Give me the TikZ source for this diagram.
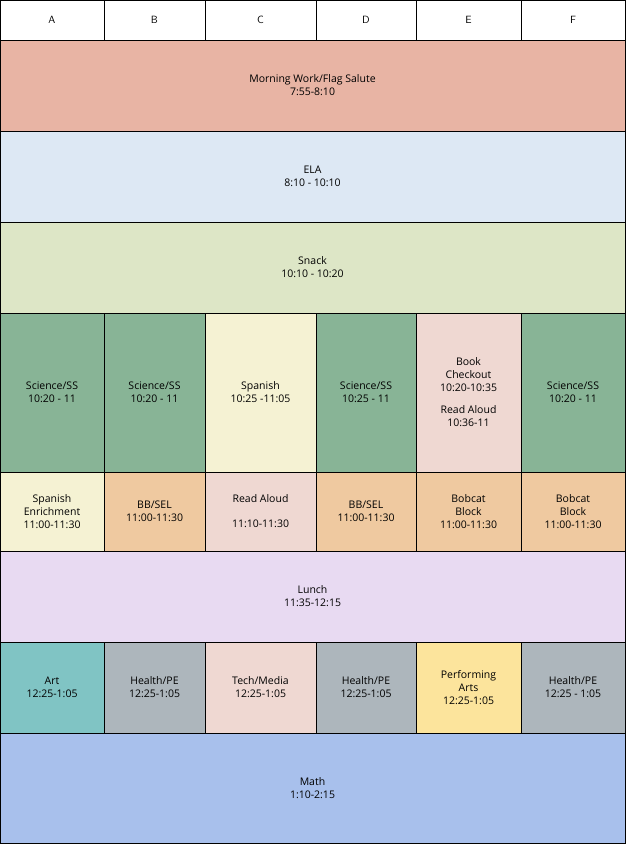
\documentclass[tikz,border=0pt]{standalone}
\usepackage{fontspec}
\setmainfont{Open Sans}
\definecolor{morning}{HTML}{E8B4A4}
\definecolor{ela}{HTML}{DDE8F4}
\definecolor{snack}{HTML}{DDE6C6}
\definecolor{science}{HTML}{88B496}
\definecolor{spanish}{HTML}{F5F2D3}
\definecolor{rose}{HTML}{EFD8D2}
\definecolor{peach}{HTML}{EFC9A0}
\definecolor{lunch}{HTML}{E8DAF2}
\definecolor{art}{HTML}{80C4C4}
\definecolor{health}{HTML}{ADB6BC}
\definecolor{perform}{HTML}{FCE49C}
\definecolor{math}{HTML}{A8C0EC}
\tikzset{cellbox/.style={draw=black, line width=0.6pt},
  celltext/.style={align=center, font=\fontsize{10.5}{13}\selectfont},
  headtext/.style={font=\fontsize{13}{15}\selectfont}}
\newcommand{\slot}[7]{%
  \draw[cellbox, fill=#6] (#2,#3) rectangle (#4,#5);
  \node[celltext] (#1) at ({(#2+#4)/2},{(#3+#5)/2}) {#7};}
\begin{document}
\begin{tikzpicture}[x=1pt,y=-1pt]
\useasboundingbox (0,0) rectangle (626,844);
% header
\foreach \n/\a/\b in {A/0/104,B/104/205,C/205/316,D/316/416,E/416/521,F/521/625}
  \slot{h\n}{\a}{0}{\b}{40}{white}{\textsf{\n}};
% full-width rows
\slot{morning}{0}{40}{625}{131}{morning}{Morning Work/Flag Salute\\7:55-8:10}
\slot{ela}{0}{131}{625}{222}{ela}{ELA\\8:10 - 10:10}
\slot{snack}{0}{222}{625}{313}{snack}{Snack\\10:10 - 10:20}
% late morning
\slot{sciA}{0}{313}{104}{472}{science}{Science/SS\\10:20 - 11}
\slot{sciB}{104}{313}{205}{472}{science}{Science/SS\\10:20 - 11}
\slot{spanC}{205}{313}{316}{472}{spanish}{Spanish\\10:25 -11:05}
\slot{sciD}{316}{313}{416}{472}{science}{Science/SS\\10:25 - 11}
\slot{bookE}{416}{313}{521}{472}{rose}{Book\\Checkout\\10:20-10:35\\[9pt]Read Aloud\\10:36-11}
\slot{sciF}{521}{313}{625}{472}{science}{Science/SS\\10:20 - 11}
% block
\slot{enrA}{0}{472}{104}{551}{spanish}{Spanish\\Enrichment\\11:00-11:30}
\slot{selB}{104}{472}{205}{551}{peach}{BB/SEL\\11:00-11:30}
\slot{readC}{205}{472}{316}{551}{rose}{Read Aloud\\[12pt]11:10-11:30}
\slot{selD}{316}{472}{416}{551}{peach}{BB/SEL\\11:00-11:30}
\slot{bobE}{416}{472}{521}{551}{peach}{Bobcat\\Block\\11:00-11:30}
\slot{bobF}{521}{472}{625}{551}{peach}{Bobcat\\Block\\11:00-11:30}
\slot{lunch}{0}{551}{625}{642}{lunch}{Lunch\\11:35-12:15}
% specials
\slot{artA}{0}{642}{104}{733}{art}{Art\\12:25-1:05}
\slot{peB}{104}{642}{205}{733}{health}{Health/PE\\12:25-1:05}
\slot{techC}{205}{642}{316}{733}{rose}{Tech/Media\\12:25-1:05}
\slot{peD}{316}{642}{416}{733}{health}{Health/PE\\12:25-1:05}
\slot{artsE}{416}{642}{521}{733}{perform}{Performing\\Arts\\12:25-1:05}
\slot{peF}{521}{642}{625}{733}{health}{Health/PE\\12:25 - 1:05}
\slot{math}{0}{733}{625}{843}{math}{Math\\1:10-2:15}
\end{tikzpicture}
\end{document}
